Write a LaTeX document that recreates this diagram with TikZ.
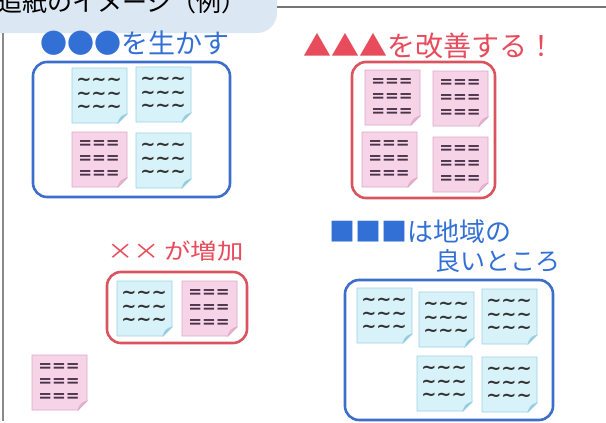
\documentclass[tikz,border=0pt]{standalone}
\usepackage{fontspec}
\setmainfont{Noto Sans CJK JP}
\newfontfamily\notefont{DejaVu Sans}
\definecolor{tabfill}{HTML}{DCE7F4}
\definecolor{framegray}{HTML}{8A8A8A}
\definecolor{grpblue}{HTML}{3B6FCB}
\definecolor{txtblue}{HTML}{3270D6}
\definecolor{grpred}{HTML}{D9545E}
\definecolor{txtred}{HTML}{E84C5C}
\definecolor{bnfill}{HTML}{D8F2F9}
\definecolor{bnline}{HTML}{9CD3E3}
\definecolor{bnflap}{HTML}{8FCDE0}
\definecolor{pnfill}{HTML}{F7D3E8}
\definecolor{pnline}{HTML}{DDA9C9}
\definecolor{pnflap}{HTML}{E7B3D2}
\definecolor{tildecol}{HTML}{333333}
\definecolor{eqcol}{HTML}{4A3449}
\tikzset{
  bfill/.style={fill=bnfill, draw=bnline, line width=0.8pt},
  bflap/.style={fill=bnflap, draw=bnline, line width=0.5pt},
  btext/.style={inner sep=0pt, align=center, text=tildecol, font=\notefont\bfseries\fontsize{18}{13.5}\selectfont},
  pfill/.style={fill=pnfill, draw=pnline, line width=0.8pt},
  pflap/.style={fill=pnflap, draw=pnline, line width=0.5pt},
  ptext/.style={inner sep=0pt, align=center, text=eqcol, font=\notefont\bfseries\fontsize{16.5}{15}\selectfont},
  bluebox/.style={draw=grpblue, line width=2.6pt, rounded corners=14pt},
  redbox/.style={draw=grpred, line width=2.6pt, rounded corners=14pt},
  headblue/.style={inner sep=0pt, anchor=west, text=txtblue},
  headred/.style={inner sep=0pt, anchor=west, text=txtred},
}
\newcommand{\stnote}[5]{%
  \begin{scope}[shift={(#2,#3)}]
    \filldraw[#4fill] (0,0) -- (55,0) -- (55,46) -- (46,55) -- (0,55) -- cycle;
    \filldraw[#4flap] (55,46) .. controls (50,47) and (47,50) .. (46,55) -- cycle;
    \node[#4text] (#1) at (27,27.5) {#5};
  \end{scope}}
\newcommand{\tld}{\textasciitilde\textasciitilde\textasciitilde\\\textasciitilde\textasciitilde\textasciitilde\\\textasciitilde\textasciitilde\textasciitilde}
\newcommand{\eqs}{===\\===\\===}
\begin{document}
\begin{tikzpicture}[x=1pt,y=-1pt]
\useasboundingbox (0,0) rectangle (606,423);
\clip (0,0) rectangle (606,423);
\fill[white] (0,0) rectangle (606,423);
% tab and frame
\fill[tabfill, rounded corners=20pt] (-40,-40) rectangle (277,33);
\node[anchor=base west, inner sep=0pt, font=\fontsize{25}{25}\selectfont] (title) at (-3,12) {追紙のイメージ（例）};
\draw[framegray!85!black, line width=1.2pt] (277,7) -- (606,7);
\draw[framegray, line width=1.5pt] (3,33) -- (3,421);
% group 1
\node[headblue, font=\fontsize{27}{27}\selectfont] (h1) at (40,43.5) {●●●を生かす};
\draw[bluebox] (33,62) rectangle (230,197);
\stnote{g1a}{72}{68}{b}{\tld}
\stnote{g1b}{136}{67}{b}{\tld}
\stnote{g1c}{72}{132}{p}{\eqs}
\stnote{g1d}{136}{133}{b}{\tld}
% group 2
\node[headred, font=\fontsize{28}{28}\selectfont] (h2) at (303,45.5) {▲▲▲を改善する！};
\draw[redbox] (352,62) rectangle (495,198);
\stnote{g2a}{365}{70}{p}{\eqs}
\stnote{g2b}{433}{71}{p}{\eqs}
\stnote{g2c}{362}{132}{p}{\eqs}
\stnote{g2d}{433}{137}{p}{\eqs}
% group 3
\node[headred, font=\fontsize{22}{22}\selectfont, xscale=1.2] (h3) at (107,251.5) {××\,が増加};
\draw[redbox] (107,272) rectangle (247,343);
\stnote{g3a}{117}{281}{b}{\tld}
\stnote{g3b}{182}{281}{p}{\eqs}
% group 4
\node[headblue, font=\fontsize{26}{26}\selectfont] (h4a) at (329,232) {■■■は地域の};
\node[headblue, font=\fontsize{25}{25}\selectfont] (h4b) at (435,261) {良いところ};
\draw[bluebox] (345,280) rectangle (553,420);
\stnote{g4a}{357}{288}{b}{\tld}
\stnote{g4b}{419}{292}{b}{\tld}
\stnote{g4c}{482}{289}{b}{\tld}
\stnote{g4d}{417}{356}{b}{\tld}
\stnote{g4e}{482}{357}{b}{\tld}
% loose note
\stnote{loose}{32}{355}{p}{\eqs}
\end{tikzpicture}
\end{document}
